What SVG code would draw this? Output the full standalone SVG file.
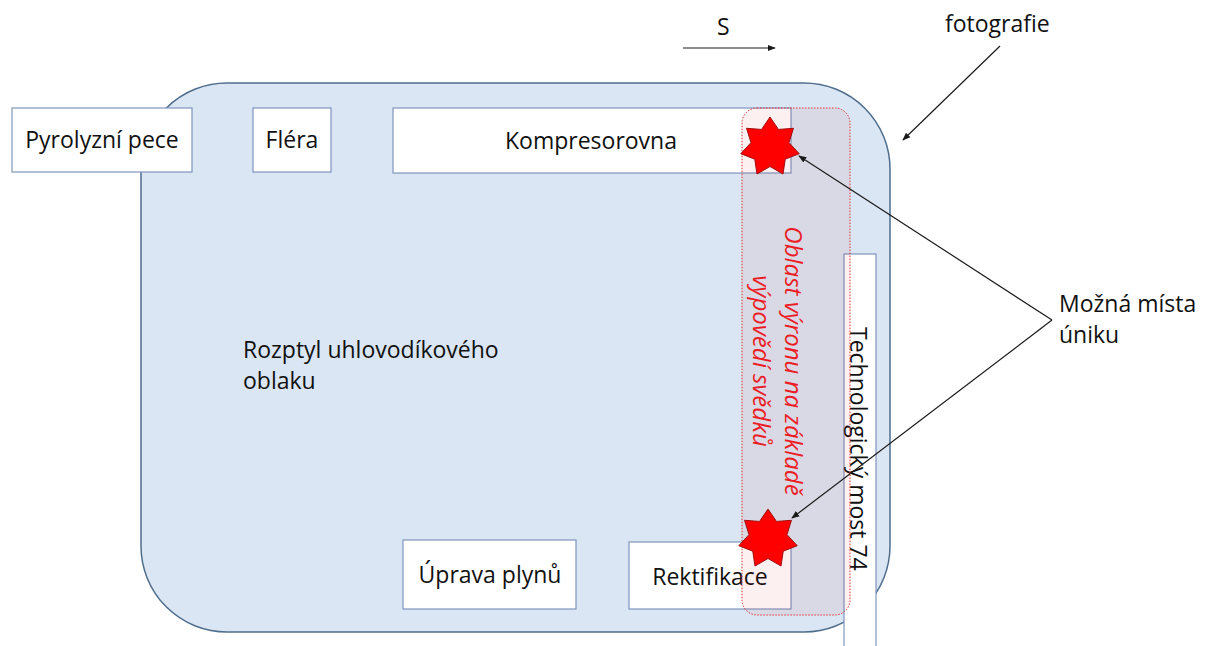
<svg xmlns="http://www.w3.org/2000/svg" width="1213" height="646" viewBox="0 0 1213 646">
  <style>
    .lbl { font-family: "Open Sans", "Liberation Sans", sans-serif; font-size: 23px; fill: #111; }
    .box { fill: #ffffff; stroke: #7f95bd; stroke-width: 1.2; }
    .red { font-family: "Open Sans", "Liberation Sans", sans-serif; font-size: 24px; font-style: italic; fill: #ec1c24; }
    .con { stroke: #1a1a1a; stroke-width: 1.2; fill: none; }
    .star { fill: #ff0000; stroke: #a01010; stroke-width: 1; }
  </style>
  <defs>
    <marker id="arr" viewBox="0 0 10 10" refX="9" refY="5" markerWidth="8" markerHeight="8" markerUnits="userSpaceOnUse" orient="auto">
      <path d="M0,1 L10,5 L0,9 Z" fill="#1a1a1a"/>
    </marker>
    <path id="star7" d="M0,-30 L8.46,-17.57 L23.45,-18.71 L19.01,-4.34 L29.25,6.68 L15.25,12.16 L13.02,27.03 L0,19.5 L-13.02,27.03 L-15.25,12.16 L-29.25,6.68 L-19.01,-4.34 L-23.45,-18.71 L-8.46,-17.57 Z"/>
  </defs>

  <rect width="1213" height="646" fill="#ffffff"/>

  <!-- hydrocarbon cloud spread -->
  <g id="cloud">
    <rect x="141" y="83" width="749" height="549" rx="86" ry="86" fill="#dae6f3" stroke="#4f6d8c" stroke-width="1.5"/>
    <text class="lbl" x="243" y="358">Rozptyl uhlovodíkového</text>
    <text class="lbl" x="243" y="389">oblaku</text>
  </g>

  <g id="pyrolyzni-pece">
    <rect class="box" x="12" y="108" width="180" height="64"/>
    <text class="lbl" x="102" y="148" text-anchor="middle">Pyrolyzní pece</text>
  </g>

  <g id="flera">
    <rect class="box" x="253" y="108" width="78" height="64"/>
    <text class="lbl" x="292" y="148" text-anchor="middle">Fléra</text>
  </g>

  <g id="kompresorovna">
    <rect class="box" x="393" y="108" width="398" height="65"/>
    <text class="lbl" x="591" y="149" text-anchor="middle">Kompresorovna</text>
  </g>

  <g id="uprava-plynu">
    <rect class="box" x="403" y="540" width="173" height="69"/>
    <text class="lbl" x="490" y="583" text-anchor="middle">Úprava plynů</text>
  </g>

  <g id="rektifikace">
    <rect class="box" x="629" y="542" width="162" height="67"/>
    <text class="lbl" x="710" y="585" text-anchor="middle">Rektifikace</text>
  </g>

  <g id="technologicky-most">
    <rect class="box" x="844" y="254" width="32" height="400"/>
    <text class="lbl" transform="translate(850,327) rotate(90)">Technologický most 74</text>
  </g>

  <!-- release area from witness statements -->
  <g id="oblast-vyronu">
    <rect x="742" y="108" width="108" height="507" rx="15" ry="15" fill="#d00010" fill-opacity="0.06" stroke="#e03030" stroke-width="1" stroke-dasharray="1.5 1.5"/>
    <text class="red" text-anchor="middle" transform="translate(785,361) rotate(90)">Oblast výronu na základě</text>
    <text class="red" text-anchor="middle" transform="translate(753,361) rotate(90)">výpovědí svědků</text>
  </g>

  <g id="unik-1">
    <use href="#star7" class="star" transform="translate(770,147)"/>
  </g>
  <g id="unik-2">
    <use href="#star7" class="star" transform="translate(768,539)"/>
  </g>

  <g id="mozna-mista">
    <text class="lbl" x="1059" y="312">Možná místa</text>
    <text class="lbl" x="1059" y="343">úniku</text>
  </g>

  <g id="fotografie">
    <text class="lbl" x="945" y="32">fotografie</text>
  </g>

  <g id="sever">
    <text class="lbl" x="717" y="35">S</text>
  </g>

  <g id="connectors">
    <line class="con" x1="683" y1="48" x2="775" y2="48" marker-end="url(#arr)"/>
    <line class="con" x1="1000" y1="46" x2="903" y2="140" marker-end="url(#arr)"/>
    <line class="con" x1="1052" y1="320" x2="799" y2="156" marker-end="url(#arr)"/>
    <line class="con" x1="1052" y1="320" x2="792" y2="518" marker-end="url(#arr)"/>
  </g>
</svg>
